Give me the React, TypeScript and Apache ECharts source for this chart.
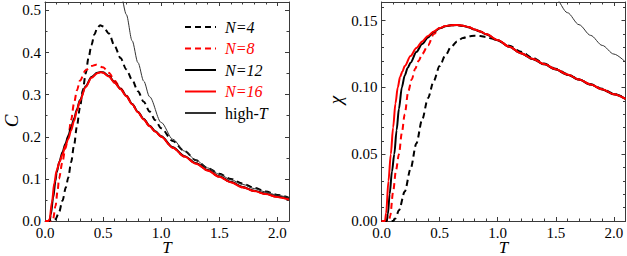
import React, { useEffect, useRef } from "react";
import * as echarts from "echarts";

// ---- Left panel: specific heat C(T) ----
const cT4 = [0, 0.06, 0.09, 0.12, 0.15, 0.18, 0.2, 0.225, 0.25, 0.275, 0.3, 0.325, 0.35, 0.375, 0.4, 0.425, 0.45, 0.475, 0.5, 0.55, 0.6, 0.65, 0.7, 0.75, 0.8, 0.85, 0.9, 0.95, 1.0, 1.1, 1.2, 1.3, 1.4, 1.5, 1.6, 1.7, 1.8, 1.9, 2.0, 2.1];
const cN4 = [0, 0, 0.004, 0.02, 0.048, 0.08, 0.103, 0.14, 0.18, 0.225, 0.268, 0.31, 0.35, 0.388, 0.418, 0.443, 0.458, 0.465, 0.462, 0.445, 0.415, 0.387, 0.36, 0.335, 0.308, 0.283, 0.26, 0.239, 0.22, 0.19, 0.166, 0.144, 0.126, 0.112, 0.1, 0.089, 0.079, 0.07, 0.062, 0.055];

const cT8 = [0, 0.06, 0.07, 0.09, 0.11, 0.12, 0.15, 0.175, 0.2, 0.225, 0.25, 0.275, 0.3, 0.35, 0.4, 0.44, 0.5, 0.55, 0.6, 0.65, 0.7, 0.75, 0.8, 0.85, 0.9, 0.95, 1.0, 1.1, 1.2, 1.3, 1.4, 1.5, 1.6, 1.7, 1.8, 1.9, 2.0, 2.1];
const cN8 = [0, 0, 0.005, 0.035, 0.075, 0.1, 0.14, 0.172, 0.2, 0.24, 0.28, 0.31, 0.333, 0.358, 0.368, 0.371, 0.365, 0.352, 0.333, 0.315, 0.298, 0.278, 0.259, 0.241, 0.226, 0.212, 0.2, 0.174, 0.153, 0.137, 0.12, 0.105, 0.092, 0.08, 0.071, 0.064, 0.057, 0.051];

const cT12 = [0, 0.04, 0.05, 0.07, 0.09, 0.1, 0.125, 0.15, 0.175, 0.2, 0.225, 0.25, 0.275, 0.3, 0.35, 0.4, 0.45, 0.48, 0.5, 0.55, 0.6, 0.65, 0.7, 0.75, 0.8, 0.85, 0.9, 0.95, 1.0, 1.1, 1.2, 1.3, 1.4, 1.5, 1.6, 1.7, 1.8, 1.9, 2.0, 2.1];
const cN12 = [0, 0, 0.015, 0.055, 0.095, 0.115, 0.142, 0.163, 0.183, 0.202, 0.222, 0.243, 0.265, 0.287, 0.32, 0.342, 0.352, 0.354, 0.353, 0.344, 0.329, 0.314, 0.297, 0.278, 0.259, 0.242, 0.226, 0.213, 0.201, 0.175, 0.154, 0.137, 0.121, 0.106, 0.093, 0.081, 0.072, 0.065, 0.058, 0.052];

const cT16 = [0, 0.03, 0.04, 0.06, 0.08, 0.1, 0.125, 0.15, 0.175, 0.2, 0.225, 0.25, 0.275, 0.3, 0.35, 0.4, 0.45, 0.48, 0.5, 0.55, 0.6, 0.65, 0.7, 0.75, 0.8, 0.85, 0.9, 0.95, 1.0, 1.1, 1.2, 1.3, 1.4, 1.5, 1.6, 1.7, 1.8, 1.9, 2.0, 2.1];
const cN16 = [0, 0, 0.005, 0.045, 0.09, 0.12, 0.14, 0.158, 0.178, 0.195, 0.215, 0.238, 0.262, 0.285, 0.318, 0.34, 0.351, 0.353, 0.352, 0.343, 0.328, 0.313, 0.296, 0.277, 0.258, 0.241, 0.225, 0.212, 0.2, 0.174, 0.153, 0.136, 0.12, 0.105, 0.092, 0.08, 0.071, 0.064, 0.057, 0.051];

const cTHigh = [0.66, 0.7, 0.75, 0.8, 0.85, 0.9, 1.0, 1.1, 1.2, 1.3, 1.4, 1.5, 1.6, 1.7, 1.8, 1.9, 2.0, 2.1];
const cHigh = [0.54, 0.49, 0.428, 0.376, 0.332, 0.295, 0.234, 0.194, 0.166, 0.144, 0.126, 0.111, 0.098, 0.087, 0.077, 0.069, 0.061, 0.055];

// ---- Right panel: susceptibility chi(T) ----
const xT4 = [0, 0.1, 0.12, 0.15, 0.2, 0.25, 0.3, 0.35, 0.4, 0.45, 0.5, 0.55, 0.6, 0.65, 0.7, 0.75, 0.8, 0.85, 0.9, 0.95, 1.0, 1.1, 1.2, 1.3, 1.4, 1.5, 1.6, 1.7, 1.8, 1.9, 2.0, 2.1];
const xN4 = [0, 0, 0.002, 0.008, 0.022, 0.039, 0.058, 0.076, 0.092, 0.105, 0.116, 0.124, 0.1305, 0.1345, 0.137, 0.1383, 0.1387, 0.1385, 0.1378, 0.1366, 0.135, 0.1312, 0.1268, 0.1222, 0.118, 0.114, 0.11, 0.106, 0.1025, 0.099, 0.0953, 0.0918];

const xT8 = [0, 0.065, 0.075, 0.1, 0.125, 0.15, 0.175, 0.2, 0.23, 0.26, 0.29, 0.32, 0.35, 0.4, 0.45, 0.5, 0.55, 0.6, 0.65, 0.7, 0.75, 0.8, 0.85, 0.9, 1.0, 1.1, 1.2, 1.3, 1.4, 1.5, 1.6, 1.7, 1.8, 1.9, 2.0, 2.1];
const xN8 = [0, 0, 0.004, 0.022, 0.038, 0.05, 0.066, 0.08, 0.097, 0.106, 0.114, 0.12, 0.125, 0.1315, 0.14, 0.1443, 0.1458, 0.1465, 0.1467, 0.1462, 0.1451, 0.1434, 0.1419, 0.1399, 0.1354, 0.1304, 0.1256, 0.1214, 0.1174, 0.1135, 0.1096, 0.1059, 0.1022, 0.0985, 0.0949, 0.0914];

const xT12 = [0, 0.045, 0.055, 0.07, 0.09, 0.11, 0.13, 0.15, 0.175, 0.2, 0.225, 0.25, 0.3, 0.35, 0.4, 0.45, 0.5, 0.55, 0.6, 0.65, 0.7, 0.75, 0.8, 0.85, 0.9, 1.0, 1.1, 1.2, 1.3, 1.4, 1.5, 1.6, 1.7, 1.8, 1.9, 2.0, 2.1];
const xN12 = [0, 0, 0.005, 0.02, 0.037, 0.05, 0.068, 0.084, 0.1, 0.109, 0.1145, 0.1185, 0.1265, 0.1325, 0.1375, 0.1415, 0.1443, 0.1458, 0.1465, 0.1467, 0.1462, 0.1451, 0.1434, 0.1419, 0.1399, 0.1354, 0.1304, 0.1256, 0.1214, 0.1174, 0.1135, 0.1096, 0.1059, 0.1022, 0.0985, 0.0949, 0.0914];

const xT16 = [0, 0.03, 0.04, 0.06, 0.08, 0.1, 0.12, 0.14, 0.16, 0.18, 0.2, 0.25, 0.3, 0.35, 0.4, 0.45, 0.5, 0.55, 0.6, 0.65, 0.7, 0.75, 0.8, 0.85, 0.9, 1.0, 1.1, 1.2, 1.3, 1.4, 1.5, 1.6, 1.7, 1.8, 1.9, 2.0, 2.1];
const xN16 = [0, 0, 0.006, 0.03, 0.05, 0.07, 0.088, 0.1, 0.108, 0.112, 0.116, 0.1235, 0.1295, 0.1345, 0.1385, 0.142, 0.1445, 0.146, 0.1466, 0.1468, 0.1463, 0.1452, 0.1435, 0.142, 0.14, 0.1355, 0.1305, 0.1257, 0.1215, 0.1175, 0.1136, 0.1097, 0.106, 0.1023, 0.0986, 0.095, 0.0915];

const xTHigh = [1.45, 1.5, 1.6, 1.7, 1.8, 1.9, 2.0, 2.1];
const xHigh = [0.172, 0.1665, 0.156, 0.147, 0.139, 0.1315, 0.125, 0.119];

// ---- axes / labels ----
const T_MAX = 2.1;
const T_MAJOR = 0.5;
const T_MINOR = 0.1;
const C_MAX = 0.52;
const C_MAJOR = 0.1;
const C_MINOR = 0.05;
const CHI_MAX = 0.164;
const CHI_MAJOR = 0.05;
const CHI_MINOR = 0.01;
const NAMES = ["N=4", "N=8", "N=12", "N=16", "high-T"];

const SERIF = "Liberation Serif";
const FRAME = "#3a3a3a";
const RED = "#ff0000";

const zip = (a: number[], b: number[]) => a.map((t, i) => [t, b[i]]);

function makeAxes(kind: "x" | "y", grid: number, max: number, major: number, minor: number, digits: number) {
  const posA = kind === "x" ? "bottom" : "left";
  const posB = kind === "x" ? "top" : "right";
  const base = (pos: string, interval: number, isMajor: boolean, labels: boolean, line: boolean) => ({
    type: "value",
    gridIndex: grid,
    position: pos,
    min: 0,
    max,
    interval,
    splitLine: { show: false },
    axisLine: { show: line, onZero: false, lineStyle: { color: FRAME, width: 1 } },
    axisTick: { show: true, inside: true, length: isMajor ? 4 : 2.5, lineStyle: { color: FRAME, width: 1 } },
    axisLabel: {
      show: labels,
      showMaxLabel: false,
      margin: 4,
      color: "#000",
      fontFamily: SERIF,
      fontSize: 15,
      formatter: (v: number) => v.toFixed(digits),
    },
  });
  return [
    base(posA, major, true, true, true),
    base(posA, minor, false, false, false),
    base(posB, major, true, false, true),
    base(posB, minor, false, false, false),
  ];
}

export default function App() {
  const ref = useRef<HTMLDivElement>(null);
  useEffect(() => {
    if (!ref.current) return;
    const chart = echarts.init(ref.current, null, { renderer: "svg" });
    const line = (name: string, data: number[][], xi: number, yi: number, color: string, dashed: boolean, width = 2) => ({
      name,
      type: "line",
      xAxisIndex: xi,
      yAxisIndex: yi,
      data,
      showSymbol: false,
      symbol: "none",
      smooth: 0.3,
      smoothMonotone: "x",
      clip: true,
      lineStyle: { color, width, type: dashed ? [6, 4] : "solid" },
      itemStyle: { color },
    });
    const label = (text: string, x: number, y: number, size: number, rotate: boolean) => ({
      type: "text",
      x,
      y,
      rotation: rotate ? Math.PI / 2 : 0,
      style: {
        text,
        fontFamily: SERIF,
        fontSize: size,
        fontStyle: "italic",
        fill: "#000",
        align: "center",
        verticalAlign: "middle",
      },
    });
    const option: any = {
      animation: false,
      grid: [
        { left: 45, top: 2, width: 244, height: 219 },
        { left: 381.5, top: 2, width: 244, height: 219 },
      ],
      xAxis: [
        ...makeAxes("x", 0, T_MAX, T_MAJOR, T_MINOR, 1),
        ...makeAxes("x", 1, T_MAX, T_MAJOR, T_MINOR, 1),
      ],
      yAxis: [
        ...makeAxes("y", 0, C_MAX, C_MAJOR, C_MINOR, 1),
        ...makeAxes("y", 1, CHI_MAX, CHI_MAJOR, CHI_MINOR, 2),
      ],
      legend: {
        show: true,
        orient: "vertical",
        left: 184,
        top: 19,
        padding: 0,
        itemWidth: 31,
        itemHeight: 12,
        itemGap: 5.5,
        itemStyle: { opacity: 0 },
        textStyle: {
          fontFamily: SERIF,
          fontSize: 16,
          color: "#000",
          padding: [0, 0, 0, 4],
          rich: {
            i: { fontFamily: SERIF, fontSize: 16, fontStyle: "italic" },
            r: { fontFamily: SERIF, fontSize: 16 },
          },
        },
        formatter: (name: string) => (name === "high-T" ? "{r|high-}{i|T}" : "{i|" + name + "}"),
        data: [
          { name: NAMES[0] },
          { name: NAMES[1], textStyle: { color: RED } },
          { name: NAMES[2] },
          { name: NAMES[3], textStyle: { color: RED } },
          { name: NAMES[4] },
        ],
      },
      series: [
        line(NAMES[0], zip(cT4, cN4), 0, 0, "#000", true),
        line(NAMES[1], zip(cT8, cN8), 0, 0, RED, true),
        line(NAMES[2], zip(cT12, cN12), 0, 0, "#000", false),
        line(NAMES[3], zip(cT16, cN16), 0, 0, RED, false),
        line(NAMES[4], zip(cTHigh, cHigh), 0, 0, "#333", false, 1),
        line(NAMES[0], zip(xT4, xN4), 4, 4, "#000", true),
        line(NAMES[1], zip(xT8, xN8), 4, 4, RED, true),
        line(NAMES[2], zip(xT12, xN12), 4, 4, "#000", false),
        line(NAMES[3], zip(xT16, xN16), 4, 4, RED, false),
        line(NAMES[4], zip(xTHigh, xHigh), 4, 4, "#333", false, 1),
      ],
      graphic: [
        label("C", 11, 121, 19, true),
        label("χ", 335, 100, 19, true),
        label("T", 167, 247, 17, false),
        label("T", 503.5, 247, 17, false),
      ],
    };
    chart.setOption(option);
    return () => chart.dispose();
  }, []);
  return <div ref={ref} style={{ position: "absolute", left: 0, top: 0, width: 627, height: 256 }} />;
}
